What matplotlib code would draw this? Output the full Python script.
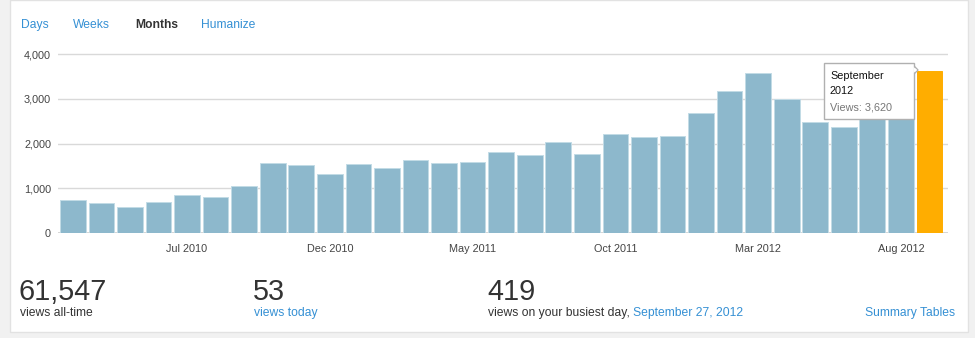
import matplotlib
matplotlib.use("Agg")
import matplotlib.pyplot as plt
from matplotlib.patches import Rectangle, Polygon

plt.rcParams['font.family'] = ['Liberation Sans', 'DejaVu Sans']

# ---- data ----
months = ["Mar 2010", "Apr 2010", "May 2010", "Jun 2010", "Jul 2010", "Aug 2010",
          "Sep 2010", "Oct 2010", "Nov 2010", "Dec 2010", "Jan 2011", "Feb 2011",
          "Mar 2011", "Apr 2011", "May 2011", "Jun 2011", "Jul 2011", "Aug 2011",
          "Sep 2011", "Oct 2011", "Nov 2011", "Dec 2011", "Jan 2012", "Feb 2012",
          "Mar 2012", "Apr 2012", "May 2012", "Jun 2012", "Jul 2012", "Aug 2012",
          "Sep 2012"]
views = [735, 665, 590, 700, 845, 810, 1045, 1560, 1520, 1330, 1545, 1455,
         1640, 1560, 1580, 1820, 1755, 2030, 1760, 2210, 2140, 2170, 2690,
         3170, 3580, 2990, 2490, 2380, 2700, 3160, 3620]
tick_labels = ["Jul 2010", "Dec 2010", "May 2011", "Oct 2011", "Mar 2012", "Aug 2012"]
y_ticks = [0, 1000, 2000, 3000, 4000]
nav_items = ["Days", "Weeks", "Months", "Humanize"]

W, H = 975, 338
fig = plt.figure(figsize=(W / 100, H / 100), dpi=100)
fig.patch.set_facecolor('#f1f1f1')


def fx(px):
    return px / W


def fy(py):
    return 1 - py / H


# white card
fig.patches.append(Rectangle((fx(10), fy(332)), fx(958), 332 / H,
                             transform=fig.transFigure, facecolor='white',
                             edgecolor='#e2e2e2', linewidth=1, zorder=-5))

LINK = '#3590d4'

# nav
nav_x = [21, 73, 135, 201]
for name, x in zip(nav_items, nav_x):
    if name == "Months":
        fig.text(fx(x), fy(28), name, fontsize=8.7, fontweight='bold',
                 color='#333333', va='baseline', ha='left')
    else:
        fig.text(fx(x), fy(28), name, fontsize=8.7, color=LINK,
                 va='baseline', ha='left')

# axes
ymax = 4050
ppu = (233.3 - 54) / 4000
top_px = 233.3 - ymax * ppu
ax = fig.add_axes([fx(58), fy(233.3), fx(890), (233.3 - top_px) / H])
ax.set_facecolor('none')
ax.set_zorder(1)
x = list(range(len(views)))
colors = ['#8db8cc'] * (len(views) - 1) + ['#ffad00']
edges = ['#c2dbe6'] * (len(views) - 1) + ['#ffad00']
ax.bar(x, views, width=0.9, color=colors, edgecolor=edges, linewidth=0.7, zorder=2)
ax.set_ylim(0, ymax)
ax.set_xlim(-0.52, 30.65)
ax.set_yticks(y_ticks)
ax.set_yticklabels([f"{v:,}" for v in y_ticks])
tick_pos = [months.index(t) for t in tick_labels]
ax.set_xticks(tick_pos)
ax.set_xticklabels(tick_labels)
ax.tick_params(axis='both', length=0, labelsize=7.8, colors='#444444')
ax.tick_params(axis='y', pad=5)
ax.tick_params(axis='x', pad=8)
for s in ax.spines.values():
    s.set_visible(False)
ax.yaxis.grid(True, color='#d9d9d9', linewidth=1)
ax.set_axisbelow(True)
ax.axhline(0, color='#d0d0d0', linewidth=1.2, zorder=1)

# tooltip
tx0, ty0, tx1, ty1 = 824, 63, 914, 119
fig.patches.append(Rectangle((fx(tx0), fy(ty1)), fx(tx1 - tx0), (ty1 - ty0) / H,
                             transform=fig.transFigure, facecolor='white',
                             edgecolor='#b0b0b0', linewidth=1, zorder=5))
fig.patches.append(Polygon([(fx(tx1), fy(66)), (fx(918), fy(70)), (fx(tx1), fy(74))],
                           closed=True, transform=fig.transFigure,
                           facecolor='white', edgecolor='#b0b0b0', linewidth=1, zorder=4))
fig.patches.append(Polygon([(fx(tx1 - 0.6), fy(66.8)), (fx(917), fy(70)), (fx(tx1 - 0.6), fy(73.2))],
                           closed=True, transform=fig.transFigure,
                           facecolor='white', edgecolor='none', zorder=6))
fig.text(fx(830), fy(79), "September", fontsize=7.8, color='#111111', va='baseline', zorder=7)
fig.text(fx(830), fy(94.5), "2012", fontsize=7.8, color='#111111', va='baseline', zorder=7)
fig.text(fx(830), fy(111), f"Views: {views[-1]:,}", fontsize=7.8, color='#777777',
         va='baseline', zorder=7)

# bottom stats
big = 20.8
fig.text(fx(19), fy(300), "61,547", fontsize=big, color='#333333', va='baseline')
fig.text(fx(20), fy(316), "views all-time", fontsize=8.7, color='#333333', va='baseline')
fig.text(fx(253), fy(300), "53", fontsize=big, color='#333333', va='baseline')
fig.text(fx(254), fy(316), "views today", fontsize=8.7, color=LINK, va='baseline')
fig.text(fx(487), fy(300), "419", fontsize=big, color='#333333', va='baseline')
fig.text(fx(488), fy(316), "views on your busiest day, ", fontsize=8.7,
         color='#333333', va='baseline')
fig.text(fx(633), fy(316), "September 27, 2012", fontsize=8.7, color=LINK, va='baseline')
fig.text(fx(955), fy(316), "Summary Tables", fontsize=8.7, color=LINK,
         va='baseline', ha='right')

fig.savefig("out.png", dpi=100, facecolor=fig.get_facecolor())
